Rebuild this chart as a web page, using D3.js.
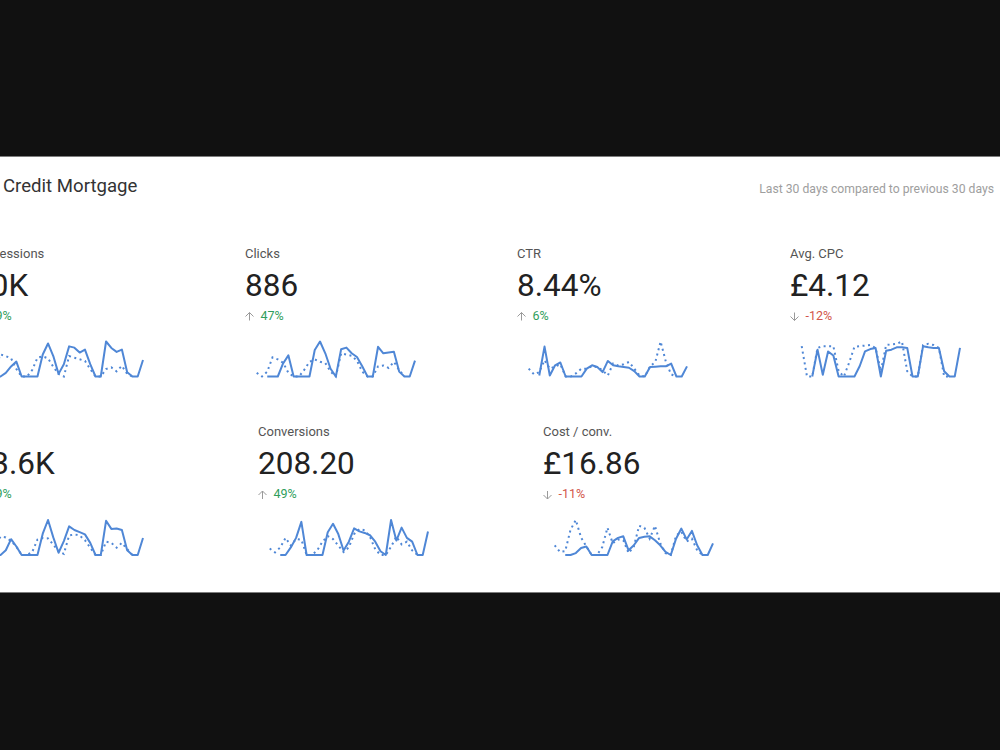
<!DOCTYPE html>
<html><head><meta charset="utf-8">
<script src="https://cdn.jsdelivr.net/npm/d3@7"></script>
<style>
html,body{margin:0;padding:0;background:#111111;overflow:hidden;}
svg{display:block;}
text{font-family:Roboto,"Noto Sans",sans-serif;}
</style></head><body>
<svg id="c" width="1000" height="750"></svg>
<script>
const title = "Credit Mortgage";
const subtitle = "Last 30 days compared to previous 30 days";
const metricLabels = ["Impressions","Clicks","CTR","Avg. CPC","Cost","Conversions","Cost / conv."];
const metricValues = ["10K","886","8.44%","£4.12","£3.6K","208.20","£16.86"];
const metricChanges = [39,47,6,-12,29,49,-11];

const impressionsCur = [null,null,0,0,92,258,383,0,0,0,0,567,850,525,67,317,775,742,617,692,317,0,0,900,733,633,692,108,0,0,425];
const impressionsPrev = [150,0,233,567,525,467,192,0,0,167,483,517,467,250,67,0,525,483,442,400,192,0,0,192,233,133,275,67,0,null,null];
const clicksCur = [null,null,0,0,0,32,52,0,0,0,0,65,86,57,19,0,67,71,57,48,25,0,0,73,57,59,61,12,0,0,39];
const clicksPrev = [9,0,12,47,42,34,9,0,0,16,36,42,36,33,12,0,57,54,51,39,12,0,0,25,27,21,36,16,0,null,null];
const ctrCur = [null,null,0.6,17.1,0.6,6.4,8.0,0,0,0,0,4.5,6.4,5.4,2.5,8.9,6.4,5.8,5.4,5.0,3.1,0,0,5.4,5.6,5.8,5.8,7.4,0,0,5.8];
const ctrPrev = [4.5,1.2,2.5,9.3,4.5,5.8,7.0,0,0,1.9,4.5,4.5,5.8,5.4,3.5,0.6,7.4,6.2,7.0,8.3,4.5,0.6,0,5.8,8.3,20.0,8.3,1.2,0,null,null];
const cpcCur = [null,null,0,4.6,0.3,4.3,3.6,0,0,0,0,1.8,4.3,4.7,4.9,0,4.4,4.6,5.0,5.0,4.9,0,0,5.2,5.0,4.9,4.9,0.9,0,0,4.9];
const cpcPrev = [5.2,0,0,4.9,5.2,5.2,5.2,0.9,0,2.4,5.1,5.2,5.3,5.4,4.9,0.9,5.4,5.5,5.6,6.0,0.9,0,0,5.4,5.6,5.4,4.9,0,0,null,null];
const costCur = [null,null,0,0,43,142,76,0,0,0,0,191,314,158,20,125,257,224,205,185,109,0,0,307,234,238,224,43,0,0,152];
const costPrev = [59,0,92,165,158,125,76,0,0,26,139,152,149,92,33,10,175,185,175,132,66,0,0,119,109,66,109,53,0,null,null];
const convCur = [null,null,0,0,4,9,17.4,0,0,0,0,12,16.4,11,2.4,7,14,12.4,11.6,10.4,7,2,0,18.4,7.6,14.4,9,7,0,0,12.4];
const convPrev = [3.4,1.4,4,9,5,8.4,8,0,0,2.4,7,10,8.4,5,1.6,4,11,13.6,13,9.6,3,0,0,4.4,9.6,5.6,7,2.4,0,null,null];
const costConvCur = [null,null,0,0,3.3,12,14.7,0,0,0,0,23.3,29.3,32,8,16.7,29.3,31.3,32,25.3,16.7,5.3,0,28,45.3,26.7,41.3,16.7,0,0,20];
const costConvPrev = [16.7,5.3,6.7,43.3,60,30,14.7,0,0,13.3,46.7,20,26.7,25.3,3.3,14.7,50,46.7,28,50,20,3.3,0,33.3,40,23.3,28,8,0,null,null];

const currentSeries = [impressionsCur,clicksCur,ctrCur,cpcCur,costCur,convCur,costConvCur];
const previousSeries = [impressionsPrev,clicksPrev,ctrPrev,cpcPrev,costPrev,convPrev,costConvPrev];

// layout
const cardX = [-27,245,517,790,-27,258,543];
const cardRow = [0,0,0,0,1,1,1];
const rowStep = 178.5;
const lineColor = "#4f87d6";

const svg = d3.select("#c");
svg.append("rect").attr("x",0).attr("y",157).attr("width",1000).attr("height",436).attr("fill","#ffffff");
svg.append("line").attr("x1",0).attr("x2",1000).attr("y1",156.5).attr("y2",156.5).attr("stroke","#7d7d7d");
svg.append("line").attr("x1",0).attr("x2",1000).attr("y1",592.5).attr("y2",592.5).attr("stroke","#7d7d7d");

svg.append("text").attr("x",3).attr("y",192).attr("font-size",18.6).attr("fill","#333").text(title);
svg.append("text").attr("x",994).attr("y",193).attr("text-anchor","end").attr("font-size",12.2).attr("fill","#9e9e9e").text(subtitle);

metricLabels.forEach((lab,i)=>{
  const x = cardX[i], dy = cardRow[i]*rowStep;
  const g = svg.append("g");
  g.append("text").attr("x",x).attr("y",257.5+dy).attr("font-size",13).attr("fill","#555").text(lab);
  g.append("text").attr("x",x).attr("y",295.5+dy).attr("font-size",31.5).attr("fill","#222").text(metricValues[i]);
  const up = metricChanges[i] >= 0;
  const ax = x+4.5, at = 312.5+dy, ab = 320.5+dy;
  const p = d3.path();
  p.moveTo(ax, up?at:ab); p.lineTo(ax, up?ab:at);
  if (up){ p.moveTo(ax-4, at+4); p.lineTo(ax, at); p.lineTo(ax+4, at+4); }
  else { p.moveTo(ax-4, ab-4); p.lineTo(ax, ab); p.lineTo(ax+4, ab-4); }
  g.append("path").attr("d",p.toString()).attr("stroke","#9a9a9a").attr("stroke-width",1).attr("fill","none");
  g.append("text").attr("x",x+15.5).attr("y",319.5+dy).attr("font-size",12.5)
    .attr("fill", up ? "#2f9e5c" : "#d2554a").text(metricChanges[i] + "%");

  const cur = currentSeries[i], prev = previousSeries[i];
  const n = Math.max(cur.length, prev.length);
  const xs = d3.scaleLinear().domain([0,n-1]).range([x+11.7, x+170]);
  const maxV = d3.max(cur.concat(prev));
  const ys = d3.scaleLinear().domain([0,maxV]).range([376.5+dy, 341.5+dy]);
  const line = d3.line().defined(d=>d!=null).x((d,j)=>xs(j)).y(d=>ys(d));
  g.append("path").attr("d",line(prev)).attr("fill","none").attr("stroke",lineColor)
    .attr("stroke-width",2).attr("stroke-dasharray","2,3.5");
  g.append("path").attr("d",line(cur)).attr("fill","none").attr("stroke",lineColor)
    .attr("stroke-width",2).attr("stroke-linejoin","round");
});
</script>
</body></html>
